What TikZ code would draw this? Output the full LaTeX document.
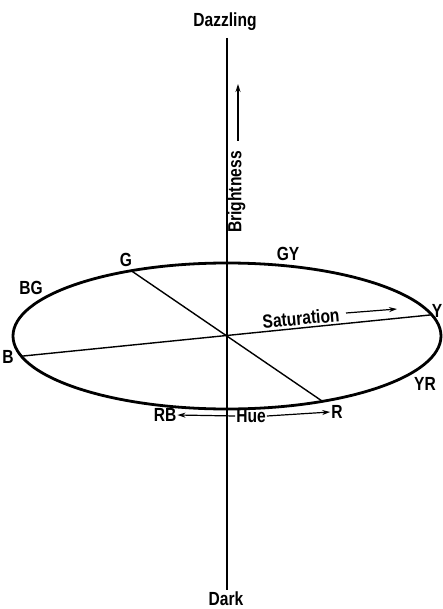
\documentclass[tikz,border=0pt]{standalone}
\usepackage{fontspec}
\setmainfont{Liberation Sans}[FakeStretch=0.82,BoldFont={Liberation Sans Bold}]
\usetikzlibrary{arrows.meta}
\begin{document}
\begin{tikzpicture}[x=1pt,y=-1pt,
  lbl/.style={inner sep=1pt,font=\fontsize{19}{21}\selectfont\bfseries},
  thin line/.style={line width=1.4pt},
  arr/.style={line width=1.2pt,-{Stealth[length=8pt,width=5pt]}}]
\useasboundingbox (0,0) rectangle (443,609);
% axis
\coordinate (top) at (227,38);
\coordinate (bot) at (227,590);
\draw[thin line] (top) -- (bot);
\node[lbl] (dazz) at (225,22) {Dazzling};
\node[lbl] (dark) at (226,599) {Dark};
% ellipse
\coordinate (c) at (227,336);
\draw[line width=2.8pt] (c) ellipse [x radius=214pt, y radius=73pt];
\coordinate (B) at (21.3,356.2);
\coordinate (Y) at (431.9,314.8);
\coordinate (G) at (131.2,270.7);
\coordinate (R) at (322.6,401.4);
\draw[thin line] (B) -- (Y);
\draw[thin line] (G) -- (R);
% labels
\node[lbl] (lG) at (126,260) {G};
\node[lbl] (lGY) at (288,254) {GY};
\node[lbl] (lBG) at (31,288) {BG};
\node[lbl] (lY) at (437,311) {Y};
\node[lbl] (lB) at (8,357) {B};
\node[lbl] (lYR) at (425,384) {YR};
\node[lbl] (lR) at (337,412) {R};
\node[lbl] (lRB) at (165,415) {RB};
\node[lbl] (hue) at (251,416) {Hue};
\draw[arr] (hue.west) -- (lRB.east);
\draw[arr] (hue.east) -- (lR.west);
% saturation
\node[lbl,rotate=5] (sat) at (301,318) {Saturation};
\coordinate (s1) at (346,313);
\coordinate (s2) at (397,309);
\draw[arr] (s1) -- (s2);
% brightness
\node[lbl,rotate=90] (bri) at (236.5,192) {Brightness};
\coordinate (b1) at (238,141);
\coordinate (b2) at (238,84);
\draw[arr] (b1) -- (b2);
\end{tikzpicture}
\end{document}
